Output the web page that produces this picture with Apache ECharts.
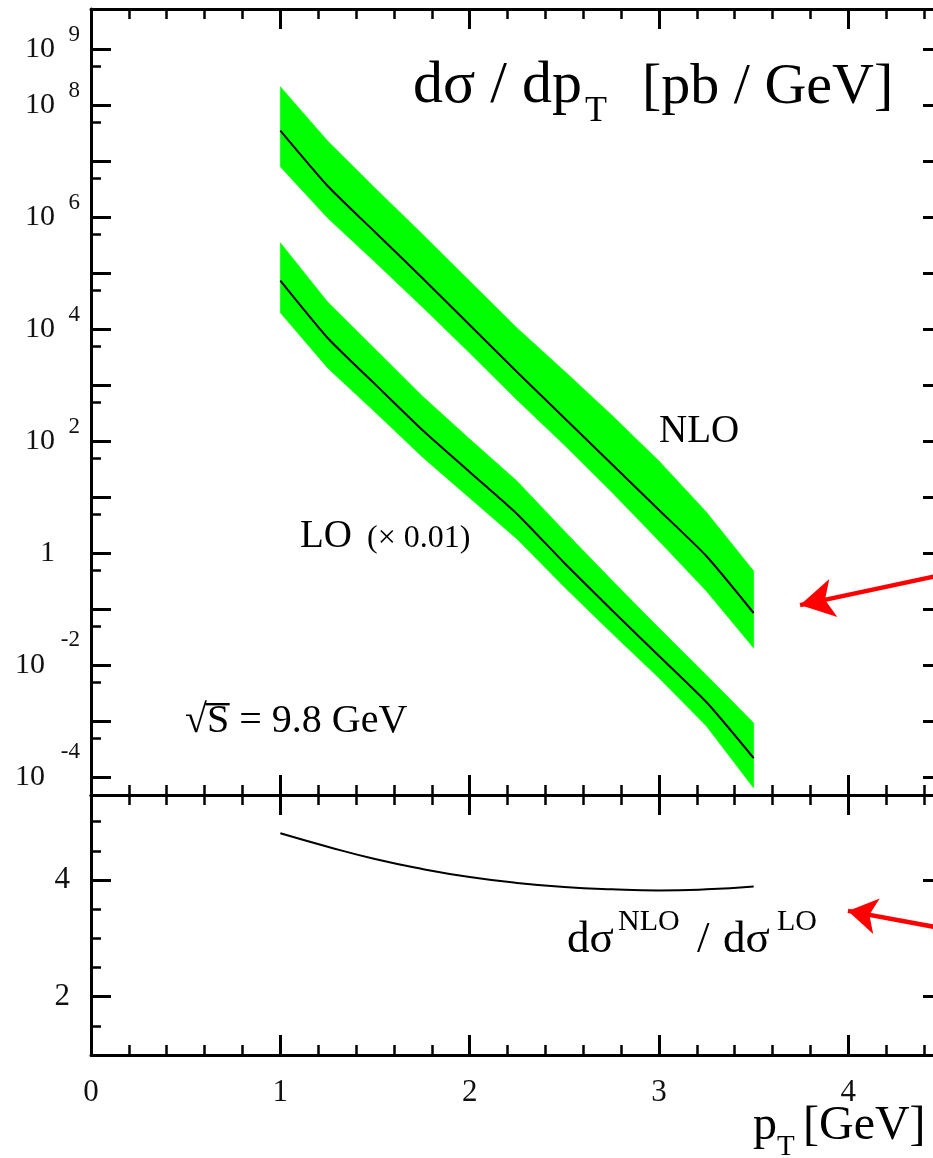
<!DOCTYPE html>
<html>
<head>
<meta charset="utf-8">
<script src="https://cdn.jsdelivr.net/npm/echarts@6.0.0/dist/echarts.min.js"></script>
<style>
html,body{margin:0;padding:0;background:#fff;}
#c{width:933px;height:1158px;}
</style>
</head>
<body>
<div id="c"></div>
<script>
// ---------------- data ----------------
const pT = [1, 1.25, 1.5, 1.75, 2, 2.25, 2.5, 2.75, 3, 3.25, 3.5];
// NLO  d sigma / d pT  [pb/GeV]
const nloCentral = [3.52e7, 3.62e6, 5.46e5, 8.24e4, 1.19e4, 1.73e3, 261, 39.4, 5.93, 0.895, 0.0859];
const nloUpper   = [2.15e8, 2.31e7, 3.33e6, 5.04e5, 7.29e4, 1.06e4, 1.80e3, 295, 44.5, 5.47, 0.483];
const nloLower   = [8.0e6, 9.73e5, 1.59e5, 2.50e4, 3.78e3, 547, 85.9, 12.4, 1.66, 0.212, 0.0204];
// LO (x 0.01)
const loCentral = [7.38e4, 7.0e3, 1.05e3, 159, 28.3, 5.04, 0.671, 0.0971, 0.0147, 2.21e-3, 2.21e-4];
const loUpper   = [3.52e5, 3.08e4, 4.45e3, 644, 110, 19.5, 2.50, 0.333, 0.0463, 6.71e-3, 9.33e-4];
const loLower   = [1.98e4, 2.04e3, 333, 52.5, 9.73, 1.80, 0.250, 0.0377, 5.93e-3, 8.24e-4, 6.44e-5];
// ratio NLO / LO
const ratio = [4.80, 4.57, 4.36, 4.19, 4.05, 3.95, 3.88, 3.84, 3.82, 3.84, 3.89];

// tick values
const xTickLabels = [0, 1, 2, 3, 4];
const yDecades = [1e-4, 1e-3, 1e-2, 1e-1, 1, 1e1, 1e2, 1e3, 1e4, 1e5, 1e6, 1e7, 1e8, 1e9];
const yHalfDecades = [5e-4, 5e-3, 5e-2, 5e-1, 5, 5e1, 5e2, 5e3, 5e4, 5e5, 5e6, 5e7, 5e8];
const yDecadeLabels = [1e-4, 1e-2, 1, 1e2, 1e4, 1e6, 1e8, 1e9];
const yExpLabels = [1e-4, 1e-2, 1e2, 1e4, 1e6, 1e8, 1e9];
const ratioMajor = [2, 4];
const ratioMinor = [1.5, 2.5, 3, 3.5, 4.5, 5];

// arrows (data coordinates: start, tip)
const arrowUpper = [[4.5, 0.415], [3.745, 0.119]];
const arrowLower = [[4.5, 3.169], [3.998, 3.47]];

// ---------------- chart ----------------
const FONT = '"Liberation Serif", "DejaVu Serif", "Times New Roman", serif';
const BLACK = '#000';
const LABEL = '#111';
const chart = echarts.init(document.getElementById('c'), null, {renderer: 'canvas'});

const XMIN = 0, XMAX = 4.5;
const YMIN = Math.pow(10, -4.316), YMAX = Math.pow(10, 9.72);
const RMIN = 1, RMAX = 5.457;

function xAx(gridIndex, position, labels) {
  return {
    type: 'value', gridIndex, position, min: XMIN, max: XMAX, interval: 1,
    axisLine: {show: true, onZero: false, lineStyle: {color: BLACK, width: 3}},
    axisTick: {show: true, inside: true, length: 20, lineStyle: {color: BLACK, width: 3}},
    minorTick: {show: true, splitNumber: 5, length: 10, lineStyle: {color: BLACK, width: 2.5}},
    splitLine: {show: false}, minorSplitLine: {show: false},
    axisLabel: {
      show: labels, margin: 22, fontSize: 31, fontFamily: FONT, color: LABEL,
      formatter: v => (xTickLabels.indexOf(v) >= 0 ? String(v) : '')
    }
  };
}

// y-axis (log): frame/ticks, base labels "10"/"1", exponent labels
function yLog(position, kind) {
  const major = kind === 'major' || kind === 'base';
  const ax = {
    type: 'log', logBase: 10, gridIndex: 0, position, min: YMIN, max: YMAX,
    axisLine: {show: major, onZero: false, lineStyle: {color: BLACK, width: 3}},
    axisTick: {show: kind !== 'exp', inside: true, length: major ? 20 : 10,
      customValues: major ? yDecades : yHalfDecades,
      lineStyle: {color: BLACK, width: major ? 3 : 2.5}},
    minorTick: {show: false},
    splitLine: {show: false},
    axisLabel: {show: false}
  };
  if (kind === 'base') {
    ax.axisLabel = {
      show: true, customValues: yDecadeLabels, margin: 36,
      formatter: v => {
        const e = Math.round(Math.log10(v));
        if (e === 0) return '{b|1}';
        return e < 0 ? '{nb|10}' : '{b|10}';
      },
      rich: {
        b: {fontSize: 30, lineHeight: 30, fontFamily: FONT, color: LABEL},
        nb: {fontSize: 30, lineHeight: 30, fontFamily: FONT, color: LABEL, padding: [0, 10, 0, 0]}
      }
    };
  }
  if (kind === 'exp') {
    ax.axisLine = {show: false, onZero: false};
    ax.axisLabel = {
      show: true, customValues: yExpLabels, margin: 11,
      formatter: v => {
        const e = Math.round(Math.log10(v));
        return e < 0 ? '{n|' + e + '}' : '{p|' + e + '}';
      },
      rich: {
        p: {fontSize: 23, lineHeight: 23, fontFamily: FONT, color: LABEL, padding: [0, 0, 28, 0]},
        n: {fontSize: 23, lineHeight: 23, fontFamily: FONT, color: LABEL, padding: [0, 0, 50, 0]}
      }
    };
  }
  return ax;
}

function yLin(position, major, labels) {
  return {
    type: 'value', gridIndex: 1, position, min: RMIN, max: RMAX,
    axisLine: {show: major, onZero: false, lineStyle: {color: BLACK, width: 3}},
    axisTick: {show: true, inside: true, length: major ? 20 : 10,
      customValues: major ? ratioMajor : ratioMinor,
      lineStyle: {color: BLACK, width: major ? 3 : 2.5}},
    minorTick: {show: false},
    splitLine: {show: false},
    axisLabel: {show: labels, customValues: ratioMajor, margin: 21,
      fontSize: 31, fontFamily: FONT, color: LABEL}
  };
}

function band(lo, hi) {
  return {
    type: 'custom', xAxisIndex: 0, yAxisIndex: 0, z: 1, silent: true, clip: true,
    data: pT.map((x, i) => [x, lo[i], hi[i]]),
    encode: {x: 0, y: [1, 2]},
    renderItem: (params, api) => {
      if (params.dataIndex !== 0) return null;
      const pts = [];
      for (let i = 0; i < pT.length; i++) pts.push(api.coord([pT[i], hi[i]]));
      for (let i = pT.length - 1; i >= 0; i--) pts.push(api.coord([pT[i], lo[i]]));
      return {type: 'polygon', shape: {points: pts},
        style: {fill: '#00ff00', stroke: '#00ff00', lineWidth: 0.6}};
    }
  };
}

function arrowMark(a, w, h) {
  return {
    silent: true, animation: false, symbol: ['none', 'arrow'], symbolSize: [0, h],
    label: {show: false},
    lineStyle: {color: '#ff0000', width: 4.5, type: 'solid'},
    emphasis: {disabled: true},
    data: [[
      {coord: a[0], symbol: 'none'},
      {coord: a[1], symbol: 'arrow', symbolSize: [w, h]}
    ]]
  };
}

function lineSeries(xi, yi, ys, smooth, mark) {
  const s = {
    type: 'line', xAxisIndex: xi, yAxisIndex: yi, z: 3, silent: true,
    data: pT.map((x, i) => [x, ys[i]]),
    showSymbol: false, symbol: 'none', smooth: smooth,
    lineStyle: {color: BLACK, width: 2}
  };
  if (mark) s.markLine = mark;
  return s;
}

// --------- text annotations ---------
function txt(text, x, base, size) {
  return {type: 'text', x: x, y: base - 0.34 * size, silent: true, z: 10,
    style: {text: text, fontSize: size, fontFamily: FONT, fill: BLACK,
      verticalAlign: 'middle', align: 'left'}};
}
const mctx = document.createElement('canvas').getContext('2d');
mctx.font = '40px ' + FONT;
const sqrtW = mctx.measureText('\u221A').width;
const sqrtSW = mctx.measureText('\u221AS').width;
const sqrtAsc = mctx.measureText('\u221A').actualBoundingBoxAscent || 34;

const graphics = [
  txt('d\u03C3 / dp', 413, 107, 60),
  txt('T', 585, 124, 36),
  txt('[pb / GeV]', 642, 107, 58),
  txt('NLO', 659, 445, 39),
  txt('LO', 300, 550, 39),
  txt('(\u00D7 0.01)', 367, 549, 32),
  txt('\u221AS = 9.8 GeV', 185, 735, 40),
  {type: 'line', silent: true, z: 10,
    shape: {x1: 185 + sqrtW - 1.5, y1: 735 - sqrtAsc + 1.2, x2: 185 + sqrtSW + 0.5, y2: 735 - sqrtAsc + 1.2},
    style: {stroke: BLACK, lineWidth: 2.4}},
  txt('d\u03C3', 567, 955, 45),
  txt('NLO', 618, 932, 30),
  txt('/', 697, 955, 45),
  txt('d\u03C3', 723, 955, 45),
  txt('LO', 777, 932, 30),
  txt('p', 753, 1143, 48),
  txt('T', 777, 1157, 29),
  txt('[GeV]', 803, 1143, 48)
];

const option = {
  animation: false,
  backgroundColor: '#fff',
  grid: [
    {left: 91, top: 9, width: 852, height: 786, containLabel: false, outerBoundsMode: 'none'},
    {left: 91, top: 795, width: 852, height: 260, containLabel: false, outerBoundsMode: 'none'}
  ],
  xAxis: [
    xAx(0, 'bottom', false),
    xAx(0, 'top', false),
    xAx(1, 'bottom', true),
    xAx(1, 'top', false)
  ],
  yAxis: [
    yLog('left', 'base'),
    yLog('right', 'major'),
    yLog('left', 'minor'),
    yLog('right', 'minor'),
    yLog('left', 'exp'),
    yLin('left', true, true),
    yLin('right', true, false),
    yLin('left', false, false),
    yLin('right', false, false)
  ],
  series: [
    band(nloLower, nloUpper),
    band(loLower, loUpper),
    lineSeries(0, 0, nloCentral, 0.2, arrowMark(arrowUpper, 29, 34)),
    lineSeries(0, 0, loCentral, 0.2, null),
    lineSeries(2, 5, ratio, 0.5, arrowMark(arrowLower, 27, 29))
  ],
  graphic: graphics
};
chart.setOption(option);
</script>
</body>
</html>
